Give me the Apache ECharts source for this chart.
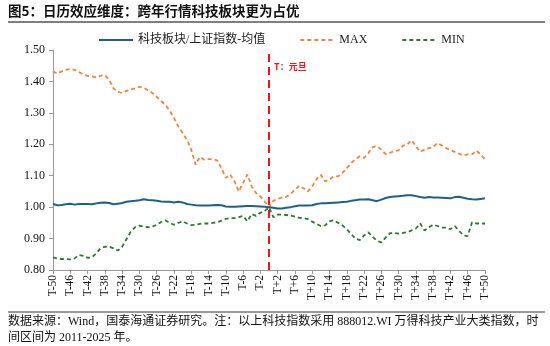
<!DOCTYPE html>
<html>
<head>
<meta charset="utf-8">
<script src="https://cdn.jsdelivr.net/npm/echarts@6/dist/echarts.min.js"></script>
<style>
  html, body { margin: 0; padding: 0; background: #fff; }
  #chart { width: 550px; height: 346px; }
</style>
</head>
<body>
<div id="chart"></div>
<script>
// Trading days around New Year's Day: T-50 ... T ... T+50
const categories = [];
for (let d = -50; d <= 50; d++) categories.push(d === 0 ? 'T' : (d < 0 ? 'T' + d : 'T+' + d));

// Tech sector / SSE Composite, mean across years (normalised to 1 at T)
const meanValues = [
  1.010, 1.006, 1.007, 1.009, 1.011, 1.008, 1.010, 1.010, 1.010, 1.009,
  1.012, 1.014, 1.015, 1.013, 1.009, 1.011, 1.013, 1.017, 1.019, 1.020,
  1.022, 1.025, 1.023, 1.022, 1.020, 1.018, 1.017, 1.017, 1.015, 1.017,
  1.015, 1.010, 1.008, 1.006, 1.005, 1.005, 1.005, 1.006, 1.007, 1.006,
  1.002, 1.001, 1.001, 1.002, 1.003, 1.004, 1.004, 1.003, 1.002, 1.001,
  1.000,
  0.998, 0.996, 0.996, 0.998, 1.000, 1.003, 1.005, 1.005, 1.005, 1.006,
  1.010, 1.012, 1.012, 1.013, 1.014, 1.015, 1.016, 1.017, 1.020, 1.022,
  1.024, 1.024, 1.025, 1.022, 1.019, 1.024, 1.029, 1.032, 1.034, 1.035,
  1.036, 1.038, 1.038, 1.035, 1.032, 1.030, 1.032, 1.031, 1.031, 1.030,
  1.029, 1.028, 1.032, 1.033, 1.030, 1.027, 1.025, 1.024, 1.026, 1.028
];

// Maximum across years
const maxValues = [
  1.432, 1.425, 1.432, 1.437, 1.440, 1.437, 1.430, 1.422, 1.418, 1.416,
  1.413, 1.418, 1.420, 1.405, 1.378, 1.367, 1.363, 1.370, 1.374, 1.378,
  1.383, 1.380, 1.372, 1.363, 1.351, 1.338, 1.325, 1.308, 1.284, 1.257,
  1.236, 1.215, 1.183, 1.135, 1.160, 1.151, 1.153, 1.153, 1.149, 1.124,
  1.093, 1.104, 1.082, 1.050, 1.077, 1.104, 1.066, 1.045, 1.034, 1.018,
  1.000,
  1.020, 1.027, 1.030, 1.033, 1.042, 1.055, 1.068, 1.060, 1.050, 1.066,
  1.089, 1.103, 1.082, 1.089, 1.098, 1.098, 1.109, 1.124, 1.140, 1.153,
  1.162, 1.157, 1.172, 1.191, 1.194, 1.183, 1.169, 1.173, 1.178, 1.181,
  1.196, 1.199, 1.213, 1.194, 1.176, 1.183, 1.188, 1.191, 1.204, 1.196,
  1.188, 1.181, 1.176, 1.170, 1.164, 1.168, 1.168, 1.180, 1.167, 1.152
];

// Minimum across years
const minValues = [
  0.840, 0.837, 0.835, 0.835, 0.834, 0.837, 0.848, 0.845, 0.839, 0.840,
  0.853, 0.869, 0.874, 0.874, 0.869, 0.862, 0.874, 0.898, 0.922, 0.936,
  0.941, 0.938, 0.936, 0.938, 0.944, 0.953, 0.958, 0.950, 0.944, 0.950,
  0.955, 0.948, 0.943, 0.944, 0.947, 0.948, 0.948, 0.950, 0.952, 0.957,
  0.963, 0.965, 0.965, 0.968, 0.972, 0.955, 0.978, 0.972, 0.982, 0.988,
  1.000,
  0.968, 0.976, 0.976, 0.975, 0.973, 0.970, 0.966, 0.965, 0.962, 0.954,
  0.947, 0.940, 0.942, 0.955, 0.958, 0.950, 0.942, 0.930, 0.915, 0.900,
  0.895, 0.910, 0.920, 0.905, 0.893, 0.888, 0.903, 0.917, 0.918, 0.916,
  0.918, 0.920, 0.926, 0.932, 0.948, 0.926, 0.936, 0.944, 0.940, 0.935,
  0.935, 0.930, 0.940, 0.925, 0.910, 0.908, 0.952, 0.948, 0.948, 0.948
];

const seriesNames = ['科技板块/上证指数-均值', 'MAX', 'MIN'];
const yTicks = { min: 0.8, max: 1.5, interval: 0.1 };
const holidayMark = 'T';
const holidayLabel = 'T：元旦';
const titleText = '图5：日历效应维度：跨年行情科技板块更为占优';
const noteLine1 = '数据来源：Wind，国泰海通证券研究。注：以上科技指数采用 888012.WI 万得科技产业大类指数，时';
const noteLine2 = '间区间为 2011-2025 年。';

const serif = '"Liberation Serif", "Times New Roman", "Noto Sans CJK SC", serif';
const cjk = '"Noto Sans CJK SC", "Liberation Serif", sans-serif';

const chart = echarts.init(document.getElementById('chart'), null, { renderer: 'canvas' });

const option = {
  animation: false,
  backgroundColor: '#fff',
  grid: { left: 53, right: 65, top: 50, bottom: 76, containLabel: false },
  legend: {
    left: 93, top: 29,
    itemWidth: 34, itemHeight: 10, itemGap: 34,
    itemStyle: { opacity: 0 },
    textStyle: { fontFamily: serif, fontSize: 12, color: '#222' },
    data: seriesNames
  },
  xAxis: {
    type: 'category',
    data: categories,
    boundaryGap: false,
    axisLine: { lineStyle: { color: '#9a9a9a', width: 1 } },
    axisTick: { interval: 3, length: 4, lineStyle: { color: '#9a9a9a' } },
    axisLabel: { interval: 3, rotate: 90, fontFamily: serif, fontSize: 11.5, color: '#111', margin: 5 },
    splitLine: { show: false }
  },
  yAxis: {
    type: 'value',
    min: yTicks.min, max: yTicks.max, interval: yTicks.interval,
    axisLine: { show: true, lineStyle: { color: '#9a9a9a', width: 1 } },
    axisTick: { show: true, length: 4, lineStyle: { color: '#9a9a9a' } },
    axisLabel: { formatter: v => v.toFixed(2), fontFamily: serif, fontSize: 12, color: '#111', margin: 8 },
    splitLine: { show: false }
  },
  series: [
    {
      name: seriesNames[0], type: 'line', data: meanValues, symbol: 'none', z: 3,
      lineStyle: { color: '#1f5f8f', width: 2 }, itemStyle: { color: '#1f5f8f' },
      markLine: {
        silent: true, symbol: 'none',
        lineStyle: { color: '#ff1010', width: 2, type: [8, 5] },
        label: { show: false },
        data: [{ xAxis: holidayMark }]
      }
    },
    {
      name: seriesNames[1], type: 'line', data: maxValues, symbol: 'none', z: 2,
      lineStyle: { color: '#f3823c', width: 1.8, type: [4, 3] }, itemStyle: { color: '#f3823c' }
    },
    {
      name: seriesNames[2], type: 'line', data: minValues, symbol: 'none', z: 2,
      lineStyle: { color: '#2a7a30', width: 1.8, type: [4, 3] }, itemStyle: { color: '#2a7a30' }
    }
  ]
};
chart.setOption(option);

// Header, footer rules and annotation text
const tx = chart.convertToPixel({ xAxisIndex: 0 }, holidayMark);
chart.setOption({
  graphic: [
    { type: 'text', left: 8, top: 4, style: { text: titleText, font: 'bold 13.5px ' + cjk, fill: '#111' } },
    { type: 'line', shape: { x1: 8, y1: 22, x2: 545, y2: 22 }, style: { stroke: '#555', lineWidth: 1.5 } },
    { type: 'text', x: tx + 5, y: 62, style: { text: holidayLabel, font: 'bold 9px ' + cjk, fill: '#ff1010' } },
    { type: 'line', shape: { x1: 8, y1: 312, x2: 545, y2: 312 }, style: { stroke: '#777', lineWidth: 1.5 } },
    { type: 'text', x: 8, y: 316, style: { text: noteLine1, font: '12px ' + serif, fill: '#111' } },
    { type: 'text', x: 8, y: 332, style: { text: noteLine2, font: '12px ' + serif, fill: '#111' } }
  ]
});
</script>
</body>
</html>
